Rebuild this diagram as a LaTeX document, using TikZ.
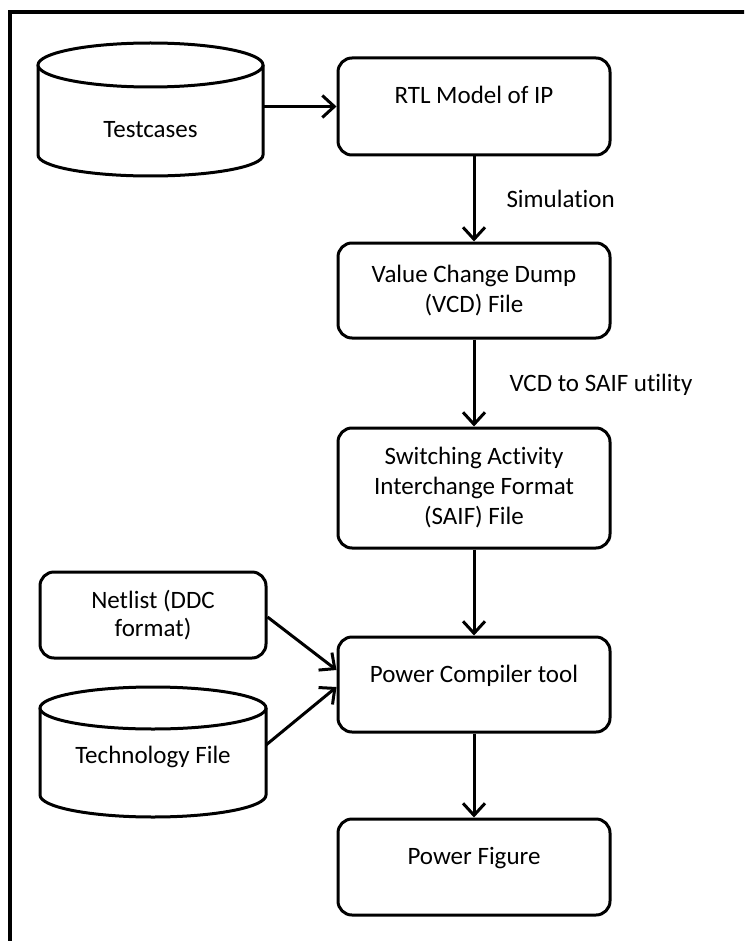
\documentclass[tikz,border=0pt]{standalone}
\usepackage{fontspec}
\setmainfont[Ligatures=NoCommon]{Carlito}
\usetikzlibrary{arrows.meta,calc}
\begin{document}
\begin{tikzpicture}[x=1pt,y=-1pt,
  every node/.style={font=\fontsize{25}{30}\selectfont, text=black},
  flowbox/.style={draw, line width=3pt, rounded corners=14pt, rectangle,
    minimum width=272pt, inner sep=0pt, align=center, fill=white},
  liftedtext/.style={text height=10pt, text depth=15pt},
  cylline/.style={draw, line width=3pt},
  arr/.style={line width=3pt, -{Straight Barb[length=12pt,width=22pt,line width=3pt]}},
  lbl/.style={inner sep=0pt, anchor=west}
]
\useasboundingbox (0,0) rectangle (744,941);
\fill[white] (0,0) rectangle (744,941);
\begin{scope}
\clip (0,0) rectangle (744,941);
\draw[line width=3.2pt] (10,12) rectangle (780,980);
\end{scope}

% Testcases cylinder
\draw[cylline, fill=white] (38,65) -- (38,155) arc[start angle=180, end angle=360, x radius=112.5pt, y radius=21pt] -- (263,65);
\draw[cylline, fill=white] (150.5,65) ellipse [x radius=112.5pt, y radius=22pt];
\node[minimum width=225pt, inner sep=0pt, outer sep=0pt] (tc) at (150.5,130) {Testcases};

% Technology cylinder
\draw[cylline, fill=white] (40,708) -- (40,795) arc[start angle=180, end angle=360, x radius=113pt, y radius=22pt] -- (266,708);
\draw[cylline, fill=white] (153,708) ellipse [x radius=113pt, y radius=21pt];
\node[minimum width=226pt, inner sep=0pt, outer sep=0pt] (tech) at (153,757) {Technology File};

% Boxes
\node[flowbox, liftedtext, minimum height=97pt] (rtl) at (474,106.5) {RTL Model of IP};
\node[flowbox, minimum height=95pt] (vcd) at (474,290.5) {Value Change Dump\\(VCD) File};
\node[flowbox, minimum height=120pt] (saif) at (474,488) {Switching Activity\\Interchange Format\\(SAIF) File};
\node[flowbox, liftedtext, minimum height=95pt] (pc) at (474,684.5) {Power Compiler tool};
\node[flowbox, liftedtext, minimum height=96pt] (pf) at (474,867) {Power Figure};
\node[flowbox, minimum width=226pt, minimum height=86pt, font=\fontsize{25}{28}\selectfont] (net) at (153,615) {Netlist (DDC\\format)};

% Connectors
\draw[arr] (tc.east |- rtl.west) -- (rtl.west);
\draw[arr] (rtl.south) -- node[lbl, xshift=31pt] (simlbl) {Simulation} (vcd.north);
\draw[arr] (vcd.south) -- node[lbl, xshift=34pt, yshift=-2pt] (utillbl) {VCD to SAIF utility} (saif.north);
\draw[arr] (saif.south) -- (pc.north);
\draw[arr] (pc.south) -- (pf.north);
\draw[arr] ($(net.east)+(0,2)$) -- ($(pc.west)+(0,-14.5)$);
\draw[arr] ($(tech.east)+(0,-12)$) -- ($(pc.west)+(0,2.5)$);
\end{tikzpicture}
\end{document}
